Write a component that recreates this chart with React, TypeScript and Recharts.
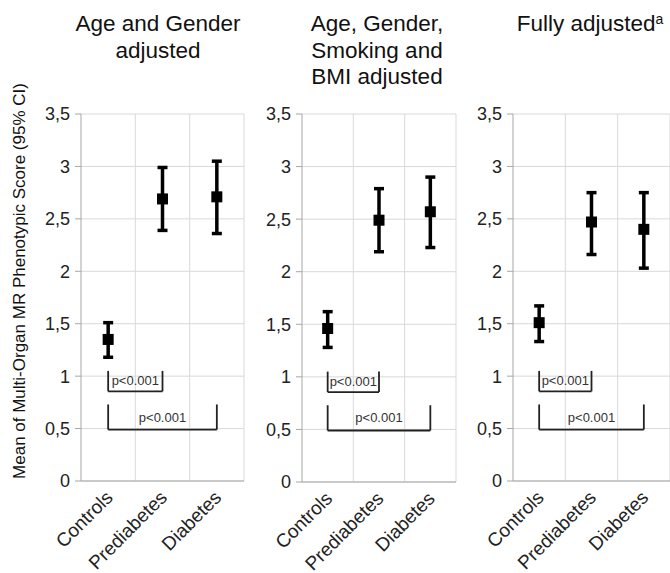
import React from "react";
import {
  CartesianGrid,
  ErrorBar,
  ReferenceDot,
  ReferenceLine,
  Scatter,
  ScatterChart,
  XAxis,
  YAxis
} from "recharts";

const CATEGORIES = ["Controls", "Prediabetes", "Diabetes"];
const Y_TICKS = [0, 0.5, 1, 1.5, 2, 2.5, 3, 3.5];
const Y_LABEL = "Mean of Multi-Organ MR Phenotypic Score (95% CI)";

// Age and Gender adjusted
const MEAN_AGE_GENDER = [1.35, 2.69, 2.71];
const LOW_AGE_GENDER = [1.18, 2.39, 2.36];
const HIGH_AGE_GENDER = [1.51, 2.99, 3.05];

// Age, Gender, Smoking and BMI adjusted
const MEAN_SMOKING_BMI = [1.46, 2.49, 2.57];
const LOW_SMOKING_BMI = [1.28, 2.19, 2.23];
const HIGH_SMOKING_BMI = [1.62, 2.79, 2.9];

// Fully adjusted
const MEAN_FULLY = [1.51, 2.47, 2.4];
const LOW_FULLY = [1.33, 2.16, 2.03];
const HIGH_FULLY = [1.67, 2.75, 2.75];

// significance brackets (category index from -> to)
const BRACKET_FROM = [0, 0];
const BRACKET_TO = [1, 2];
const BRACKET_TOP = [1.05, 0.73];
const BRACKET_BOTTOM = [0.855, 0.49];
const P_LABELS = ["p<0.001", "p<0.001"];
const P_LABEL_Y = [0.96, 0.61];

const FONT = '"Liberation Sans", Arial, sans-serif';
const GRID = "#d9d9d9";
const AXIS = "#a6a6a6";

const makeRows = (mean: number[], low: number[], high: number[]) =>
  CATEGORIES.map((c, i) => ({
    name: c,
    x: i + 0.5,
    y: mean[i],
    err: [mean[i] - low[i], high[i] - mean[i]]
  }));

const PANELS = [
  {
    title: ["Age and Gender", "adjusted"],
    sup: "",
    titleCenter: 158,
    rows: makeRows(MEAN_AGE_GENDER, LOW_AGE_GENDER, HIGH_AGE_GENDER),
    left: 0,
    axisWidth: 81,
    plotWidth: 163,
    right: 6,
    bottom: 481
  },
  {
    title: ["Age, Gender,", "Smoking and", "BMI adjusted"],
    sup: "",
    titleCenter: 377,
    rows: makeRows(MEAN_SMOKING_BMI, LOW_SMOKING_BMI, HIGH_SMOKING_BMI),
    left: 250,
    axisWidth: 52,
    plotWidth: 154,
    right: 6,
    bottom: 482
  },
  {
    title: ["Fully adjusted"],
    sup: "a",
    titleCenter: 590,
    rows: makeRows(MEAN_FULLY, LOW_FULLY, HIGH_FULLY),
    left: 470,
    axisWidth: 43,
    plotWidth: 157,
    right: 0,
    bottom: 481
  }
];

const SquareMarker = (props: any) => {
  const { cx, cy } = props;
  if (cx == null || cy == null) return null;
  return <rect x={cx - 5.5} y={cy - 5.5} width={11} height={11} fill="#000" />;
};

const CategoryTick = (props: any) => {
  const { x, y, payload } = props;
  const idx = Math.round(payload.value - 0.5);
  return (
    <g transform={`translate(${x - 4},${y + 8}) rotate(-45)`}>
      <text x={0} y={0} dy="0.72em" textAnchor="end" fontSize={19} fill="#222" fontFamily={FONT}>
        {CATEGORIES[idx]}
      </text>
    </g>
  );
};

const Panel = ({ p }: { p: (typeof PANELS)[number] }) => {
  const top = 114;
  const height = 573;
  const xAxisHeight = 60;
  const width = p.axisWidth + p.plotWidth + p.right;
  return (
    <div style={{ position: "absolute", left: p.left, top: 0 }}>
      <ScatterChart
        width={width}
        height={height}
        margin={{ top, right: p.right, left: 0, bottom: height - p.bottom - xAxisHeight }}
      >
        <CartesianGrid vertical={false} stroke={GRID} />
        {[1, 2, 3].map((v) => (
          <ReferenceLine key={v} x={v} stroke={GRID} />
        ))}
        <XAxis
          type="number"
          dataKey="x"
          domain={[0, 3]}
          ticks={[0.5, 1.5, 2.5]}
          interval={0}
          height={xAxisHeight}
          tickLine={false}
          tickSize={0}
          tickMargin={0}
          axisLine={{ stroke: AXIS }}
          tick={<CategoryTick />}
        />
        <YAxis
          type="number"
          dataKey="y"
          domain={[0, 3.5]}
          ticks={Y_TICKS}
          interval={0}
          width={p.axisWidth}
          tickSize={6}
          tickMargin={5}
          tickLine={{ stroke: AXIS }}
          axisLine={{ stroke: AXIS }}
          tickFormatter={(v: number) => String(v).replace(".", ",")}
          tick={{ fontSize: 18, fill: "#222", fontFamily: FONT }}
        />
        {BRACKET_FROM.map((f, i) => {
          const x1 = f + 0.5;
          const x2 = BRACKET_TO[i] + 0.5;
          const t = BRACKET_TOP[i];
          const b = BRACKET_BOTTOM[i];
          return (
            <React.Fragment key={i}>
              <ReferenceLine segment={[{ x: x1, y: t }, { x: x1, y: b }]} stroke="#222" strokeWidth={1.8} />
              <ReferenceLine segment={[{ x: x1, y: b }, { x: x2, y: b }]} stroke="#222" strokeWidth={1.8} />
              <ReferenceLine segment={[{ x: x2, y: b }, { x: x2, y: t }]} stroke="#222" strokeWidth={1.8} />
              <ReferenceDot
                x={(x1 + x2) / 2}
                y={P_LABEL_Y[i]}
                r={1}
                fill="none"
                stroke="none"
                label={{ value: P_LABELS[i], position: "center", fontSize: 13, fill: "#333", fontFamily: FONT }}
              />
            </React.Fragment>
          );
        })}
        <Scatter data={p.rows} dataKey="y" shape={<SquareMarker />} isAnimationActive={false}>
          <ErrorBar dataKey="err" direction="y" width={5} strokeWidth={3.5} stroke="#000" isAnimationActive={false} />
        </Scatter>
      </ScatterChart>
    </div>
  );
};

export default function App() {
  return (
    <div
      style={{
        position: "fixed",
        left: 0,
        top: 0,
        width: 670,
        height: 573,
        overflow: "hidden",
        background: "#fff",
        fontFamily: FONT
      }}
    >
      {PANELS.map((p, i) => (
        <Panel key={i} p={p} />
      ))}
      {PANELS.map((p, i) => (
        <div
          key={"t" + i}
          style={{
            position: "absolute",
            left: p.titleCenter - 110,
            top: 11,
            width: 220,
            textAlign: "center",
            fontSize: 22.5,
            lineHeight: "26.5px",
            color: "#111"
          }}
        >
          {p.title.map((line, j) => (
            <div key={j}>
              {line}
              {j === 0 && p.sup ? (
                <span style={{ fontSize: 14, verticalAlign: "top", lineHeight: "16px" }}>{p.sup}</span>
              ) : null}
            </div>
          ))}
        </div>
      ))}
      <div
        style={{
          position: "absolute",
          left: 20,
          top: 281,
          transform: "translate(-50%, -50%) rotate(-90deg)",
          whiteSpace: "nowrap",
          fontSize: 17,
          color: "#111"
        }}
      >
        {Y_LABEL}
      </div>
    </div>
  );
}
